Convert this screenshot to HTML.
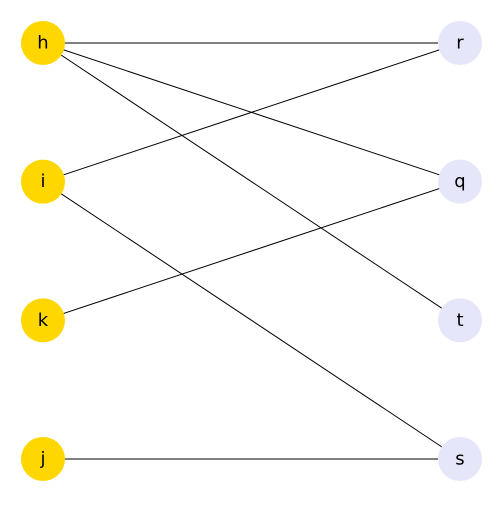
<!DOCTYPE html>
<html><head><meta charset="utf-8"><style>
html,body{margin:0;padding:0;background:#fff;}
svg text{font-family:"DejaVu Sans","Liberation Sans",sans-serif;font-size:18px;}
</style></head><body>
<svg id="chart" width="504" height="504" viewBox="0 0 504 504">
<g id="edges"></g>
<g id="nodes"></g>
</svg>
<script>
const leftNodes = ["h","i","k","j"];
const rightNodes = ["r","q","t","s"];
const edgeSources = ["h","h","h","i","i","k","j"];
const edgeTargets = ["r","q","t","r","s","q","s"];

const ns = "http://www.w3.org/2000/svg";
const xLeft = 43, xRight = 460, yTop = 43, yBottom = 459, R = 22;
function yPos(i, n){ return yTop + (yBottom - yTop) * i / (n - 1); }
const pos = {};
leftNodes.forEach((n,i)=>{ pos[n] = {x:xLeft, y:yPos(i,leftNodes.length), c:"#ffd700"}; });
rightNodes.forEach((n,i)=>{ pos[n] = {x:xRight, y:yPos(i,rightNodes.length), c:"#e6e6fa"}; });

const eg = document.getElementById("edges");
edgeSources.forEach((s,i)=>{
  const t = edgeTargets[i];
  const l = document.createElementNS(ns,"line");
  l.setAttribute("x1",pos[s].x); l.setAttribute("y1",pos[s].y);
  l.setAttribute("x2",pos[t].x); l.setAttribute("y2",pos[t].y);
  l.setAttribute("stroke","#000"); l.setAttribute("stroke-width","1");
  
  
  eg.appendChild(l);
});

const ng = document.getElementById("nodes");
Object.keys(pos).forEach(n=>{
  const g = document.createElementNS(ns,"g");
  
  
  const c = document.createElementNS(ns,"circle");
  c.setAttribute("cx",pos[n].x); c.setAttribute("cy",pos[n].y); c.setAttribute("r",R);
  c.setAttribute("fill",pos[n].c);
  const t = document.createElementNS(ns,"text");
  t.setAttribute("x",pos[n].x); t.setAttribute("y",pos[n].y);
  t.setAttribute("text-anchor","middle"); t.setAttribute("dominant-baseline","central");
  t.textContent = n;
  g.appendChild(c); g.appendChild(t); ng.appendChild(g);
});
</script>
</body></html>
